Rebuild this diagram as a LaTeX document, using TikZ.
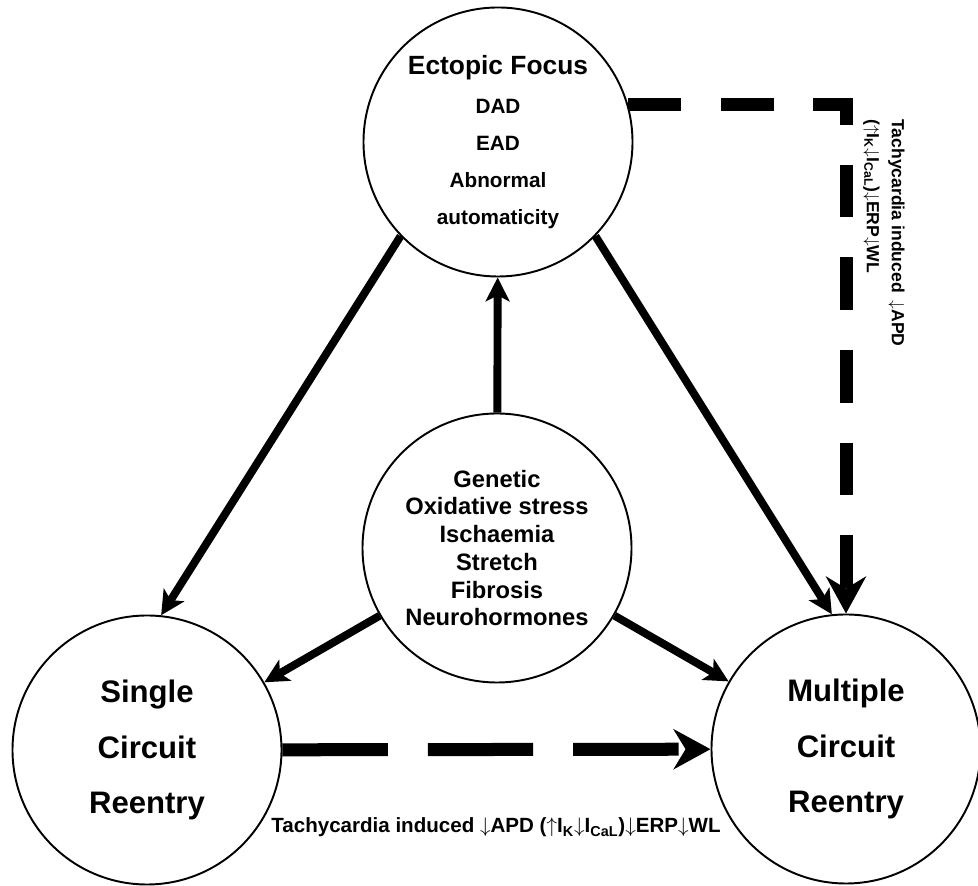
\documentclass[tikz,border=0pt]{standalone}
\usepackage{fontspec}
\setmainfont{Liberation Sans}
\usetikzlibrary{arrows.meta}
\tikzset{
  crc/.style={draw,circle,minimum size=5.38cm,inner sep=0pt,line width=1.1pt,align=center},
  ar/.style={-{Stealth[length=13.6pt,width=13.6pt,inset=3.4pt]},line width=4.5pt},
  dar/.style={-{Stealth[length=21pt,width=22.7pt,inset=6.8pt]},line width=7.4pt},
  lbl/.style={inner sep=0pt}
}

\begin{document}
\begin{tikzpicture}
\useasboundingbox (0,0) rectangle (19.56,17.72);

\node[crc,font=\bfseries\fontsize{11.8}{21}\selectfont] (foc) at (9.96,14.88) {{\fontsize{15}{18}\selectfont Ectopic Focus}\\[1.7pt]DAD\\EAD\\Abnormal\\automaticity};
\node[crc,font=\bfseries\fontsize{13.5}{15.8}\selectfont] (sub) at (9.94,6.76) {Genetic\\Oxidative stress\\Ischaemia\\Stretch\\Fibrosis\\Neurohormones};
\node[crc,font=\bfseries\fontsize{17.7}{31.7}\selectfont] (sng) at (2.94,2.72) {Single\\Circuit\\Reentry};
\node[crc,font=\bfseries\fontsize{17.7}{31.7}\selectfont] (mul) at (16.92,2.74) {Multiple\\Circuit\\Reentry};

\draw[ar] (sub)--(foc); \draw[ar] (sub)--(sng); \draw[ar] (sub)--(mul);
\draw[ar] (foc.224)--(sng.84); \draw[ar] (foc.316)--(mul.96);

% tachycardia paths
\draw[dar,dash pattern=on 60pt off 22.7pt] (sng)--(mul);
\draw[dar,dash pattern=on 30pt off 22.7pt] (foc.16)-|(mul.north);

\node[lbl,anchor=base west,font=\bfseries\fontsize{11.7}{13}\selectfont] (hlab) at (5.42,1.06) {Tachycardia induced $\downarrow$APD ($\uparrow$I\textsubscript{K}$\downarrow$I\textsubscript{CaL})$\downarrow$ERP$\downarrow$WL};
\node[lbl,rotate=-90,anchor=north west,align=left,font=\bfseries\fontsize{10}{14.2}\selectfont] (vlab) at (18.1,15.34) {Tachycardia induced \,$\downarrow$APD\\($\uparrow$I\textsubscript{K}$\downarrow$I\textsubscript{CaL})$\downarrow$ERP$\downarrow$WL};
\end{tikzpicture}
\end{document}
